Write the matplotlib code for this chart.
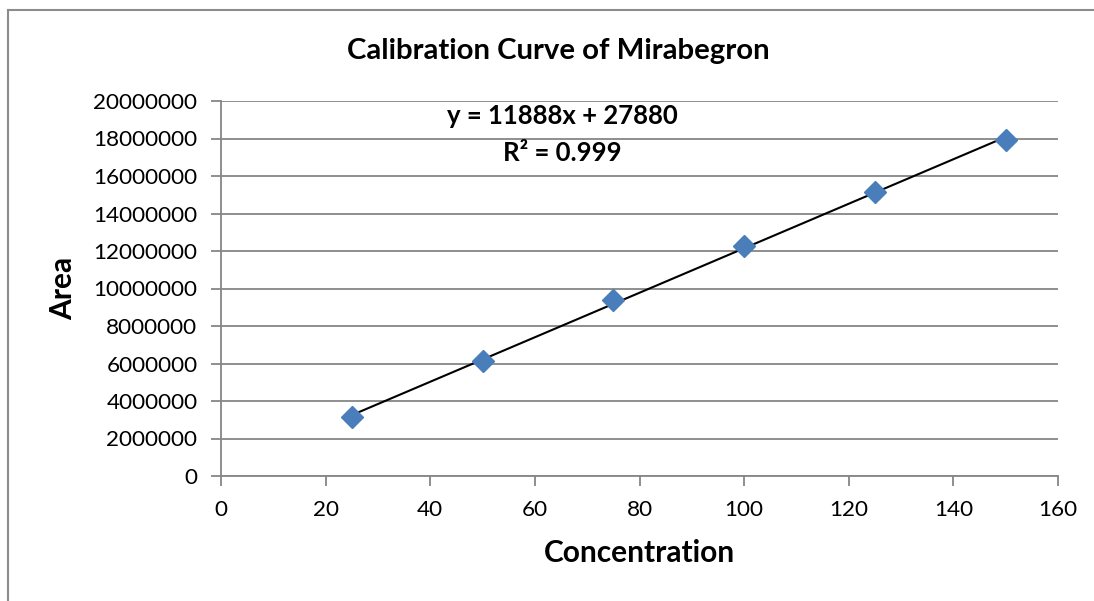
import numpy as np
import matplotlib
matplotlib.use("Agg")
import matplotlib.pyplot as plt
from matplotlib.lines import Line2D

plt.rcParams['font.family'] = ['Lato', 'DejaVu Sans']

# Data
concentration = [25, 50, 75, 100, 125, 150]
area = [3130000, 6130000, 9390000, 12280000, 15130000, 17920000]
title = "Calibration Curve of Mirabegron"
xlabel = "Concentration"
ylabel = "Area"
equation_text = "y = 11888x + 27880"
r2_text = "R² = 0.999"
xticks = [0, 20, 40, 60, 80, 100, 120, 140, 160]
yticks = [0, 2000000, 4000000, 6000000, 8000000, 10000000, 12000000,
          14000000, 16000000, 18000000, 20000000]

W, H = 1094, 601
fig = plt.figure(figsize=(W / 100, H / 100), dpi=100)
ax = fig.add_axes([221 / W, 1 - 476 / H, (1058 - 221) / W, (476 - 101) / H])

grid_c = '#868686'
ax.set_xlim(0, 160)
ax.set_ylim(0, 20000000)
ax.set_xticks(xticks)
ax.set_yticks(yticks)
ax.set_xticklabels([str(t) for t in xticks])
ax.set_yticklabels([str(t) for t in yticks])
ax.yaxis.grid(True, color=grid_c, linewidth=1.3)
ax.set_axisbelow(True)
for s in ['top', 'right']:
    ax.spines[s].set_visible(False)
for s in ['left', 'bottom']:
    ax.spines[s].set_color(grid_c)
    ax.spines[s].set_linewidth(1.3)
ax.tick_params(axis='both', colors=grid_c, length=7, width=1.3, direction='out',
               labelcolor='black', labelsize=16.2)
ax.tick_params(axis='x', pad=10)
ax.tick_params(axis='y', pad=10)

# Trend line (linear least-squares fit)
coef = np.polyfit(concentration, area, 1)
xf = np.array([min(concentration), max(concentration)])
ax.plot(xf, np.polyval(coef, xf), color='black', linewidth=1.5, zorder=3)

ax.plot(concentration, area, linestyle='none', marker='D', markersize=11.5,
        color='#4A7EBB', markeredgecolor='#4A7EBB', zorder=4, clip_on=False)

ax.text(562 / W, 1 - 116 / H, equation_text, transform=fig.transFigure,
        ha='center', va='center', fontsize=18.5, fontweight='bold')
ax.text(562 / W, 1 - 153 / H, r2_text, transform=fig.transFigure,
        ha='center', va='center', fontsize=18.5, fontweight='bold')

fig.text(558 / W, 1 - 51 / H, title, ha='center', va='center',
         fontsize=21.2, fontweight='bold')
fig.text(639 / W, 1 - 553 / H, xlabel, ha='center', va='center',
         fontsize=21.5, fontweight='bold')
fig.text(63 / W, 1 - 288 / H, ylabel, ha='center', va='center',
         fontsize=21.5, fontweight='bold', rotation=90)

# Outer chart border (left and top)
fig.add_artist(Line2D([8 / W, 8 / W], [0, 1 - 9.5 / H], transform=fig.transFigure,
                      color='#8c8c8c', linewidth=1.5))
fig.add_artist(Line2D([8 / W, 1], [1 - 9.5 / H, 1 - 9.5 / H], transform=fig.transFigure,
                      color='#8c8c8c', linewidth=1.5))

fig.savefig('out.png', dpi=100)
